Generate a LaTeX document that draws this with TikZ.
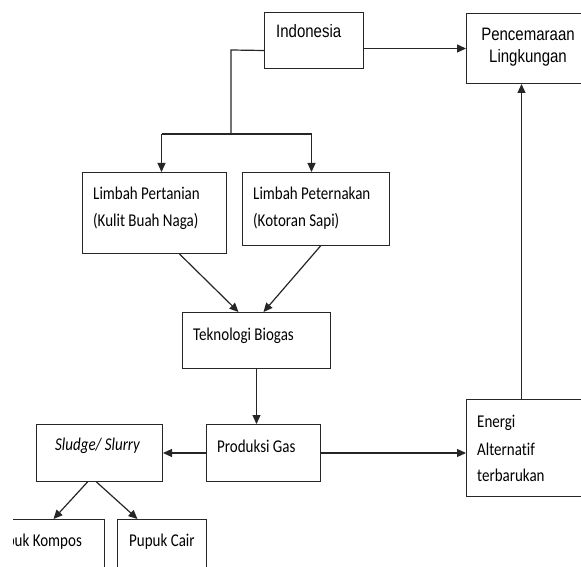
\documentclass[tikz,border=0pt]{standalone}
\usepackage{fontspec}
\usepackage{graphicx}
\setmainfont[Ligatures=NoCommon]{Carlito}
\newfontfamily\arialf{Liberation Sans}
\usetikzlibrary{arrows.meta}
\newcommand\stretchtxt[1]{\scalebox{1}[1.2]{#1}}
\tikzset{
  box/.style={draw=black!85, line width=1pt, inner sep=0pt, anchor=north west},
  txt/.style={inner sep=0pt, anchor=base west, font=\fontsize{15}{18}\selectfont},
  atxt/.style={inner sep=0pt, anchor=base, font=\arialf\fontsize{15}{18}\selectfont},
  conn/.style={draw=black!85, line width=1.2pt},
  arr/.style={conn, -{Triangle[length=9pt,width=8pt]}}
}
\begin{document}
\begin{tikzpicture}[x=1pt,y=-1pt]
\useasboundingbox (0,0) rectangle (581,567);
\clip (13,0) rectangle (581,567);
% boxes
\node[box, minimum width=99pt, minimum height=56pt] (ind) at (264,12) {};
\node[box, minimum width=130pt, minimum height=70pt] (pen) at (466,13) {};
\node[box, minimum width=144pt, minimum height=81pt] (lp) at (82,172) {};
\node[box, minimum width=147pt, minimum height=73pt] (lt) at (242,172) {};
\node[box, minimum width=148pt, minimum height=56pt] (tb) at (182,312) {};
\node[box, minimum width=114pt, minimum height=57pt] (pg) at (206,424) {};
\node[box, minimum width=126pt, minimum height=57pt] (sl) at (36,424) {};
\node[box, minimum width=130pt, minimum height=97pt] (en) at (466,399) {};
\node[box, minimum width=124pt, minimum height=70pt] (pk) at (-20,519) {};
\node[box, minimum width=89pt, minimum height=70pt] (pc) at (117,519) {};
% texts
\node[atxt, anchor=base west] (indt) at (276,38) {\stretchtxt{Indonesia}};
\node[atxt] (pent1) at (528,41) {\stretchtxt{Pencemaraan}};
\node[atxt] (pent2) at (528,63) {\stretchtxt{Lingkungan}};
\node[txt] (lpt1) at (93,200) {\stretchtxt{Limbah Pertanian}};
\node[txt] (lpt2) at (93,226) {\stretchtxt{(Kulit Buah Naga)}};
\node[txt] (ltt1) at (253,200) {\stretchtxt{Limbah Peternakan}};
\node[txt] (ltt2) at (253,226) {\stretchtxt{(Kotoran Sapi)}};
\node[txt] (tbt) at (193,340) {\stretchtxt{Teknologi Biogas}};
\node[txt] (pgt) at (217,452) {\stretchtxt{Produksi Gas}};
\node[txt] (slt) at (55,450) {\stretchtxt{\itshape Sludge/ Slurry}};
\node[txt] (ent1) at (477,427) {\stretchtxt{Energi}};
\node[txt] (ent2) at (477,455) {\stretchtxt{Alternat\kern0pt if}};
\node[txt] (ent3) at (477,481) {\stretchtxt{terbarukan}};
\node[txt] (pkt) at (-9,546) {\stretchtxt{Pupuk Kompos}};
\node[txt] (pct) at (129,546) {\stretchtxt{Pupuk Cair}};
% connectors
\coordinate (jt) at (231,50);
\coordinate (jn) at (231,134);
\coordinate (jl) at ([xshift=7pt]lp.north |- jn);
\coordinate (jr) at ([xshift=-4.5pt]lt.north |- jn);
\draw[conn] ([yshift=-10pt]ind.west) -- (jt) -- (jn);
\draw[conn] (jl) -- (jr);
\draw[arr] (jl) -- ([xshift=7pt]lp.north);
\draw[arr] (jr) -- ([xshift=-4.5pt]lt.north);
\draw[arr] (ind.east |- pen.west) -- (pen.west);
\draw[arr] ([xshift=25pt]lp.south) -- ([xshift=-18pt]tb.north);
\draw[arr] ([xshift=4.5pt]lt.south) -- ([xshift=7pt]tb.north);
\draw[arr] (tb.south) -- (tb.south |- pg.north);
\draw[arr] (pg.west) -- (sl.east);
\draw[arr] (pg.east) -- (en.west |- pg.east);
\draw[arr] ([xshift=-10pt]en.north) -- ([xshift=-10pt]pen.south);
\draw[arr] ([xshift=-12pt]sl.south) -- ([xshift=11pt]pk.north);
\draw[arr] ([xshift=-3pt]sl.south) -- ([xshift=-24.5pt]pc.north);
\end{tikzpicture}
\end{document}
